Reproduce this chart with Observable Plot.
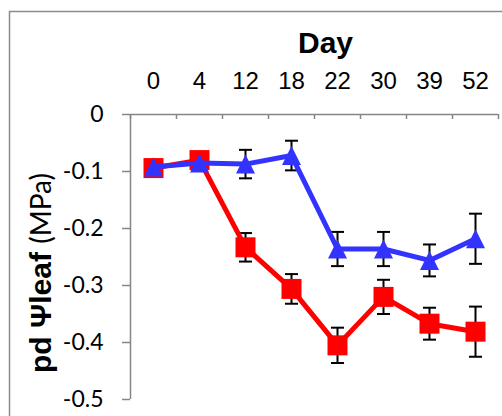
<!DOCTYPE html>
<html>
<head>
<meta charset="utf-8">
<script src="https://cdn.jsdelivr.net/npm/d3@7"></script>
<script src="https://cdn.jsdelivr.net/npm/@observablehq/plot@0.6"></script>
<style>
  html, body { margin: 0; padding: 0; background: #fff; }
  #chart svg { display: block; }
</style>
</head>
<body>
<div id="chart"></div>
<script>
// Sampling days (categorical axis, drawn along the top)
const days = ["0", "4", "12", "18", "22", "30", "39", "52"];

// Square-marker series (red): mean pre-dawn leaf water potential and its error
const squareMean = [-0.094, -0.080, -0.233, -0.306, -0.405, -0.320, -0.367, -0.381];
const squareErr  = [0.008, 0.008, 0.025, 0.026, 0.031, 0.030, 0.028, 0.044];

// Triangle-marker series (blue)
const triangleMean = [-0.092, -0.085, -0.087, -0.072, -0.236, -0.236, -0.256, -0.218];
const triangleErr  = [0.008, 0.008, 0.025, 0.026, 0.030, 0.030, 0.028, 0.044];

// Y axis tick values
const yTicks = [0, -0.1, -0.2, -0.3, -0.4, -0.5];

const RED = "#ff0000";
const BLUE = "#3333ff";
const AXIS = "#868686";

const toRows = (mean, err) => days.map((day, i) => ({day, value: mean[i], lo: mean[i] - err[i], hi: mean[i] + err[i]}));
const squares = toRows(squareMean, squareErr);
const triangles = toRows(triangleMean, triangleErr);

// Marker shapes whose width equals the dot diameter (2r)
const squareSymbol = {
  draw(ctx, size) {
    const h = Math.sqrt(size / Math.PI);
    ctx.moveTo(-h, -h); ctx.lineTo(h, -h); ctx.lineTo(h, h); ctx.lineTo(-h, h); ctx.closePath();
  }
};
const triangleSymbol = {
  draw(ctx, size) {
    const h = Math.sqrt(size / Math.PI);
    ctx.moveTo(0, -h); ctx.lineTo(h, h); ctx.lineTo(-h, h); ctx.closePath();
  }
};
// horizontal cap for the error whiskers
const capSymbol = {
  draw(ctx, size) {
    const h = Math.sqrt(size / Math.PI);
    ctx.moveTo(-h, 0); ctx.lineTo(h, 0);
  }
};

const errorMarks = rows => [
  Plot.ruleX(rows, {x: "day", y1: "lo", y2: "hi", stroke: "#000", strokeWidth: 2}),
  Plot.dot(rows, {x: "day", y: "lo", symbol: capSymbol, r: 6.5, stroke: "#000", fill: "none", strokeWidth: 2}),
  Plot.dot(rows, {x: "day", y: "hi", symbol: capSymbol, r: 6.5, stroke: "#000", fill: "none", strokeWidth: 2})
];

const chart = Plot.plot({
  width: 502,
  height: 416,
  marginLeft: 130,
  marginRight: 4,
  marginTop: 114,
  marginBottom: 17,
  style: {fontFamily: "'Liberation Sans', Arial, sans-serif", background: "#fff", color: "#000"},
  x: {type: "point", domain: days, padding: 0.5},
  y: {domain: [-0.5, 0]},
  marks: [
    // category boundary ticks hanging below the top axis line
    Plot.tickX(days, {x: d => d, dx: -23, insetBottom: 280, stroke: AXIS, strokeWidth: 1.5}),
    Plot.tickX(days.slice(-1), {x: d => d, dx: 23, insetBottom: 280, stroke: AXIS, strokeWidth: 1.5}),
    // axis lines
    Plot.ruleX(days.slice(0, 1), {x: d => d, dx: -23, stroke: AXIS, strokeWidth: 1.5}),
    Plot.ruleY([0], {stroke: AXIS, strokeWidth: 1.5}),
    Plot.axisY(yTicks, {
      tickSize: 8, tickPadding: 19, stroke: AXIS, strokeWidth: 1.5, fill: "#000",
      fontSize: 23, fontFamily: "Lato", tickFormat: d => String(d), label: null
    }),
    Plot.axisX({
      anchor: "top", tickSize: 0, tickPadding: 26, fill: "#000",
      fontSize: 24, label: null
    }),
    Plot.text(["Day"], {text: d => d, frameAnchor: "top", dx: 11, dy: -62, lineAnchor: "bottom", fontSize: 30, fontWeight: "bold", fill: "#000"}),
    // error bars sit beneath the markers
    ...errorMarks(squares),
    ...errorMarks(triangles),
    Plot.line(squares, {x: "day", y: "value", stroke: RED, strokeWidth: 5, strokeLinejoin: "round"}),
    Plot.dot(squares, {x: "day", y: "value", symbol: squareSymbol, r: 10, fill: RED, stroke: null}),
    Plot.line(triangles, {x: "day", y: "value", stroke: BLUE, strokeWidth: 5, strokeLinejoin: "round"}),
    Plot.dot(triangles, {x: "day", y: "value", symbol: triangleSymbol, r: 9.5, fill: BLUE, stroke: null})
  ]
});

// outer chart border (left and top edges visible)
const svg = d3.select(chart);
svg.append("path")
  .attr("d", "M9.5,416V11.5H502")
  .attr("fill", "none")
  .attr("stroke", "#8c8c8c")
  .attr("stroke-width", 1.5);

// rotated y-axis title with bold and regular parts
const ylab = svg.append("text")
  .attr("transform", "translate(51,273) rotate(-90)")
  .attr("text-anchor", "middle")
  .attr("fill", "#000")
  .style("white-space", "pre");
ylab.append("tspan")
  .attr("font-family", "'Liberation Sans', Arial, sans-serif")
  .attr("font-weight", "bold")
  .attr("font-size", 30)
  .text("pd Ψleaf ");
ylab.append("tspan")
  .attr("font-family", "Lato, sans-serif")
  .attr("font-size", 28)
  .text("(MPa)");

document.getElementById("chart").appendChild(chart);
</script>
</body>
</html>
